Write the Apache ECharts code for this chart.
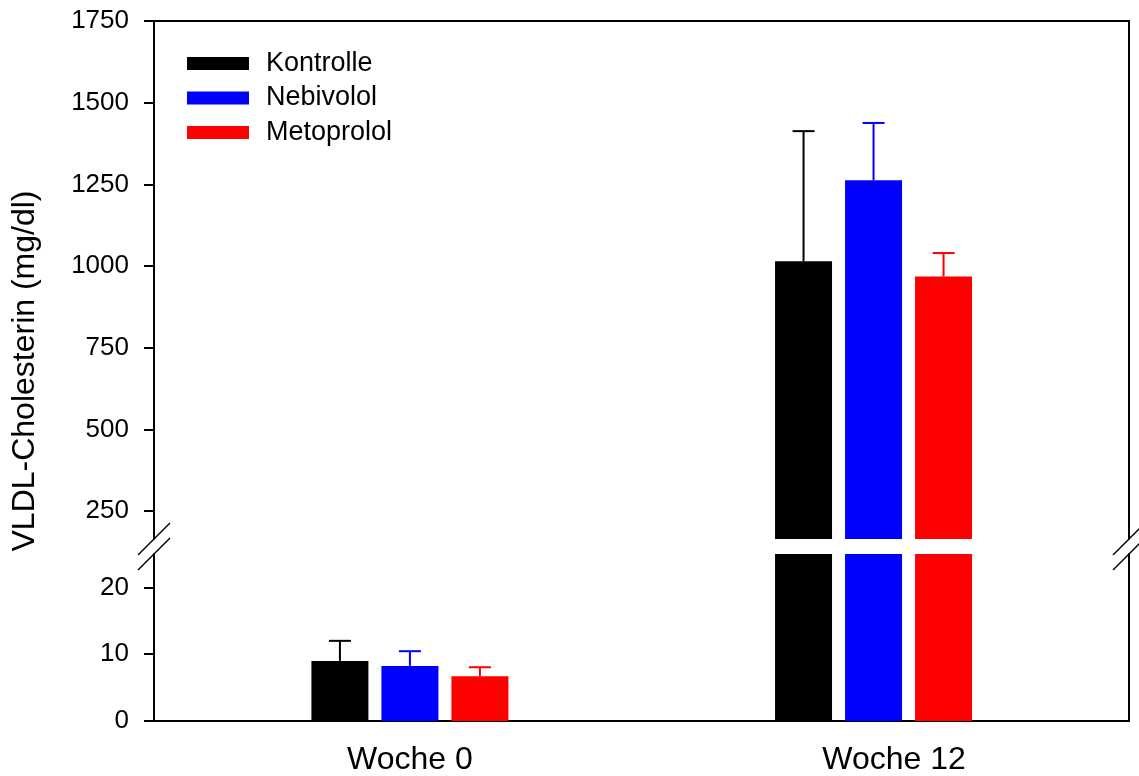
<!DOCTYPE html>
<html>
<head>
<meta charset="utf-8">
<script src="https://cdn.jsdelivr.net/npm/echarts@6/dist/echarts.min.js"></script>
<style>
  html, body { margin: 0; padding: 0; background: #ffffff; }
  #chart { width: 1139px; height: 776px; }
</style>
</head>
<body>
<div id="chart"></div>
<script>
// Data: VLDL cholesterol (mean and SD) per treatment group and week
const weeks = ['Woche 0', 'Woche 12'];
const groups = ['Kontrolle', 'Nebivolol', 'Metoprolol'];
const kontrolle = [9.0, 1015];
const kontrolleErr = [3.0, 398];
const nebivolol = [8.25, 1263];
const nebivololErr = [2.2, 175];
const metoprolol = [6.7, 968];
const metoprololErr = [1.35, 72];
const upperTicks = [250, 500, 750, 1000, 1250, 1500, 1750];
const lowerTicks = [0, 10, 20];

const values = [kontrolle, nebivolol, metoprolol];
const errors = [kontrolleErr, nebivololErr, metoprololErr];
const colors = ['#000000', '#0000ff', '#ff0000'];

// Layout of the broken value axis: an upper and a lower panel
const FONT = 'Liberation Sans, Arial, Helvetica, sans-serif';
const plotLeft = 154, plotRight = 1129;
const upperTop = 21, upperBottom = 539;
const lowerTop = 554, lowerBottom = 721;
const upperMin = 165, upperMax = 1750;
const lowerMin = 0, lowerMax = 25;
const xMin = -0.552, xMax = 1.551;
const barWidth = 57, barGapPx = 13;

const chart = echarts.init(document.getElementById('chart'), null, { renderer: 'canvas' });

const axisLineStyle = { color: '#000', width: 2 };

function xAxisFor(gridIndex, bottom) {
  return {
    type: 'value', gridIndex: gridIndex, min: xMin, max: xMax,
    position: bottom ? 'bottom' : 'top',
    axisLine: { show: true, onZero: false, lineStyle: axisLineStyle },
    axisTick: { show: false },
    splitLine: { show: false },
    axisLabel: bottom ? {
      show: true, customValues: [0, 1], margin: 23,
      fontFamily: FONT, fontSize: 32, color: '#000',
      formatter: function (v) {
        const i = Math.round(v);
        return i === 1 ? '{w12|' + weeks[1] + '}' : weeks[0];
      },
      rich: { w12: { fontFamily: FONT, fontSize: 32, color: '#000', padding: [0, 0, 0, 41] } }
    } : { show: false }
  };
}

function leftAxisFor(gridIndex, min, max, ticks) {
  return {
    type: 'value', gridIndex: gridIndex, min: min, max: max, position: 'left',
    axisLine: { show: true, onZero: false, lineStyle: axisLineStyle },
    axisTick: { show: true, inside: false, length: 10, customValues: ticks, lineStyle: { color: '#000', width: 2 } },
    axisLabel: {
      show: true, customValues: ticks, margin: 25, fontFamily: FONT, fontSize: 26, color: '#000',
      formatter: function (v) { return String(Math.round(v)); }
    },
    splitLine: { show: false }
  };
}

function rightAxisFor(gridIndex) {
  return {
    type: 'value', gridIndex: gridIndex, position: 'right',
    axisLine: { show: true, onZero: false, lineStyle: axisLineStyle },
    axisTick: { show: false }, axisLabel: { show: false }, splitLine: { show: false }
  };
}

function errorBarRenderer(offset, color) {
  return function (params, api) {
    const x = api.value(0), v = api.value(1), e = api.value(2);
    const base = api.coord([x, v]);
    const tip = api.coord([x, v + e]);
    const cx = base[0] + offset;
    return {
      type: 'group',
      children: [
        { type: 'line', shape: { x1: cx, y1: base[1], x2: cx, y2: tip[1] }, style: { stroke: color, lineWidth: 2 } },
        { type: 'line', shape: { x1: cx - 11, y1: tip[1], x2: cx + 11, y2: tip[1] }, style: { stroke: color, lineWidth: 2 } }
      ]
    };
  };
}

const series = [];
[0, 1].forEach(function (g) {
  groups.forEach(function (name, i) {
    series.push({
      name: name, type: 'bar', xAxisIndex: g, yAxisIndex: g * 2,
      barWidth: barWidth, barGap: (barGapPx / barWidth * 100) + '%',
      clip: true, silent: true,
      itemStyle: { color: colors[i] },
      data: weeks.map(function (w, k) { return [k, values[i][k]]; })
    });
  });
  groups.forEach(function (name, i) {
    series.push({
      name: name + ' SD', type: 'custom', xAxisIndex: g, yAxisIndex: g * 2,
      clip: true, silent: true, z: 5,
      renderItem: errorBarRenderer((i - 1) * (barWidth + barGapPx), colors[i]),
      data: weeks.map(function (w, k) { return [k, values[i][k], errors[i][k]]; })
    });
  });
});

function breakMarks(x) {
  return [upperBottom, lowerTop].map(function (y) {
    return {
      type: 'line', silent: true, z: 100,
      shape: { x1: x - 16, y1: y + 16, x2: x + 16, y2: y - 16 },
      style: { stroke: '#000', lineWidth: 1.5 }
    };
  });
}

const option = {
  animation: false,
  backgroundColor: '#ffffff',
  textStyle: { fontFamily: FONT },
  grid: [
    { left: plotLeft, right: 1139 - plotRight, top: upperTop, height: upperBottom - upperTop, containLabel: false, outerBoundsMode: 'none' },
    { left: plotLeft, right: 1139 - plotRight, top: lowerTop, height: lowerBottom - lowerTop, containLabel: false, outerBoundsMode: 'none' }
  ],
  xAxis: [xAxisFor(0, false), xAxisFor(1, true)],
  yAxis: [
    leftAxisFor(0, upperMin, upperMax, upperTicks),
    rightAxisFor(0),
    leftAxisFor(1, lowerMin, lowerMax, lowerTicks),
    rightAxisFor(1)
  ],
  legend: {
    data: groups.map(function (n) { return { name: n, icon: 'rect' }; }),
    orient: 'vertical', left: 187, top: 50, padding: 0,
    itemWidth: 62, itemHeight: 13, itemGap: 7.5,
    selectedMode: false,
    textStyle: { fontFamily: FONT, fontSize: 27, color: '#000', lineHeight: 26, padding: [0, 0, 0, 12] }
  },
  graphic: [
    {
      type: 'text', x: 25, y: 371, rotation: Math.PI / 2, silent: true,
      style: { text: 'VLDL-Cholesterin (mg/dl)', font: '32px ' + FONT, fill: '#000', align: 'center', verticalAlign: 'middle' }
    }
  ].concat(breakMarks(plotLeft), breakMarks(plotRight)),
  series: series
};

chart.setOption(option);
</script>
</body>
</html>
